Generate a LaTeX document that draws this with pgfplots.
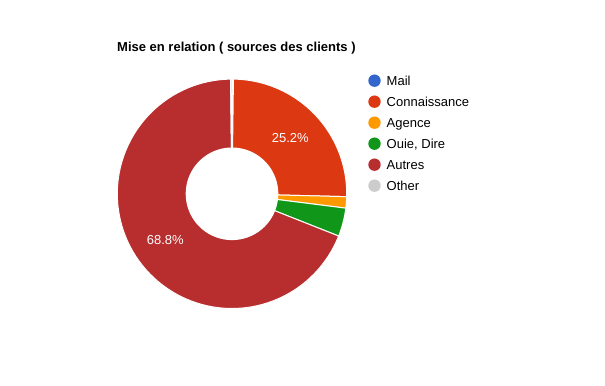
\documentclass[border=0pt]{standalone}
\usepackage{pgfplots}
\pgfplotsset{compat=1.18}
\usepackage{fontspec}
\setmainfont{Liberation Sans}
\definecolor{cMail}{HTML}{3366CC}
\definecolor{cConn}{HTML}{DC3912}
\definecolor{cAgen}{HTML}{FF9900}
\definecolor{cOuie}{HTML}{109618}
\definecolor{cAutr}{HTML}{B82E2E}
\definecolor{cOthr}{HTML}{CCCCCC}
% donut geometry (pixel units)
\def\cx{232}\def\cy{192.2}\def\Ro{114.7}\def\Ri{46.3}\def\Rl{81}
\gdef\cum{0}
\newcommand\slice[2]{% colour, percentage
  \pgfmathsetmacro\sa{\cum*3.6}%
  \pgfmathsetmacro\sb{(\cum+#2)*3.6}%
  \edef\tmp{\noexpand\addplot[fill=#1, draw=white, line width=1bp, domain=\sa:\sb, samples=90, variable=\noexpand\t]
    ({\cx+\Ro*sin(\noexpand\t)},{\cy+\Ro*cos(\noexpand\t)}) -- (axis cs:\cx,\cy) -- cycle;}%
  \tmp
  \ifdim #2pt>5pt
    \pgfmathsetmacro\sm{(\cum+#2/2)*3.6}%
    \pgfmathsetmacro\lx{\cx+\Rl*sin(\sm)}%
    \pgfmathsetmacro\ly{\cy+\Rl*cos(\sm)}%
    \edef\tmp{\noexpand\node[text=white, font=\noexpand\fontsize{13bp}{15bp}\noexpand\selectfont, inner sep=0pt] at (axis cs:\lx,\ly) {#2\noexpand\%};}%
    \tmp
  \fi
  \pgfmathsetmacro\newcum{\cum+#2}%
  \xdef\cum{\newcum}%
}
\begin{document}
\begin{tikzpicture}
\useasboundingbox (0,0) rectangle (605bp,386bp);
\begin{axis}[
  at={(0,0)}, anchor=south west,
  scale only axis, width=605bp, height=386bp,
  xmin=0, xmax=605, ymin=0, ymax=386,
  hide axis, clip=false,
  legend image code/.code={\fill[#1, draw=none] (6.2bp,0bp) circle (6.2bp);},
  legend style={at={(axis cs:368.3,312)}, anchor=north west, draw=none, fill=none,
    inner sep=0pt, outer sep=0pt, column sep=6bp, row sep=7.6bp,
    font=\fontsize{13bp}{15bp}\selectfont,
    nodes={inner sep=0pt, outer sep=0pt, text height=12bp, text depth=1.4bp}},
  legend cell align=left,
]
\slice{cMail}{0.2}
\slice{cConn}{25.2}
\slice{cAgen}{1.6}
\slice{cOuie}{4.0}
\slice{cAutr}{68.8}
\slice{cOthr}{0.2}
\addplot[fill=white, draw=none, domain=0:360, samples=120, forget plot]
  ({\cx+\Ri*sin(x)},{\cy+\Ri*cos(x)}) -- cycle;
\legend{Mail,Connaissance,Agence,{Ouie, Dire},Autres,Other}
\node[anchor=base west, inner sep=0pt, font=\bfseries\fontsize{13bp}{15bp}\selectfont] at (axis cs:117,334.5) {Mise en relation ( sources des clients )};
\end{axis}
\end{tikzpicture}
\end{document}
